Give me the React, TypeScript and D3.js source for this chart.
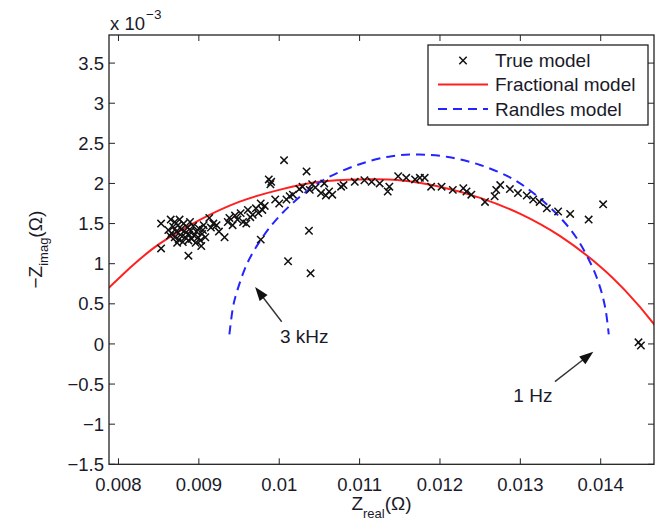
import React from 'react';
import * as d3 from 'd3';

// True model measurements: Z_real (Ω), -Z_imag (×10^-3 Ω)
const trueX = [
  0.00853, 0.00853, 0.00865, 0.00887, 0.00903,
  0.00862, 0.00866, 0.00868, 0.00870, 0.00872, 0.00874, 0.00875, 0.00877, 0.00878, 0.00880,
  0.00881, 0.00883, 0.00884, 0.00886, 0.00887, 0.00888, 0.00890, 0.00891, 0.00893, 0.00894,
  0.00896, 0.00897, 0.00899, 0.00900, 0.00902, 0.00904, 0.00906, 0.00908, 0.00870, 0.00876,
  0.00864, 0.00889, 0.00873, 0.00905,
  0.00913, 0.00915, 0.00918, 0.00922, 0.00925, 0.00932, 0.00936, 0.00938, 0.00942, 0.00945,
  0.00948, 0.00952, 0.00955, 0.00959, 0.00961, 0.00964, 0.00967, 0.00971, 0.00974, 0.00977,
  0.00979, 0.00982, 0.00977,
  0.00987, 0.00989, 0.00990, 0.00995, 0.01000, 0.01006, 0.01009, 0.01013, 0.01017, 0.01025,
  0.01029, 0.01034, 0.01038, 0.01041, 0.01045, 0.01052, 0.01056, 0.01058, 0.01062, 0.01066,
  0.01077, 0.01080,
  0.01037, 0.01011, 0.01039,
  0.01094, 0.01106, 0.01115, 0.01125, 0.01135, 0.01137, 0.01148, 0.01158, 0.01169, 0.01175,
  0.01181, 0.01189, 0.01202, 0.01216, 0.01229, 0.01233, 0.01239, 0.01256, 0.01268, 0.01270,
  0.01275, 0.01287, 0.01297, 0.01308, 0.01316, 0.01324, 0.01333, 0.01347, 0.01362, 0.01385,
  0.01403,
  0.01447, 0.01450,
];
const trueY = [
  1.50, 1.19, 1.55, 1.10, 1.22,
  1.42, 1.38, 1.46, 1.33, 1.40, 1.48, 1.30, 1.36, 1.43, 1.27,
  1.50, 1.33, 1.39, 1.45, 1.29, 1.36, 1.41, 1.31, 1.47, 1.35,
  1.26, 1.40, 1.33, 1.44, 1.29, 1.37, 1.48, 1.33, 1.52, 1.55,
  1.35, 1.52, 1.26, 1.42,
  1.57, 1.45, 1.50, 1.48, 1.40, 1.33, 1.52, 1.57, 1.48, 1.60,
  1.55, 1.63, 1.52, 1.50, 1.67, 1.58, 1.61, 1.69, 1.63, 1.75,
  1.67, 1.72, 1.30,
  2.05, 1.99, 2.02, 1.80, 1.75, 2.29, 1.80, 1.84, 1.86, 1.93,
  1.96, 2.15, 1.92, 1.99, 1.95, 1.88, 2.00, 1.85, 1.90, 1.86,
  1.96, 1.98,
  1.41, 1.03, 0.88,
  2.02, 2.04, 2.02, 2.00, 1.90, 1.96, 2.09, 2.07, 2.05, 2.07,
  2.07, 1.96, 1.96, 1.92, 1.94, 1.90, 1.86, 1.77, 1.84, 1.92,
  1.98, 1.93, 1.88, 1.85, 1.80, 1.77, 1.69, 1.65, 1.62, 1.55,
  1.74,
  0.02, -0.02,
];

// Fractional model curve
const fracX = [0.00780, 0.00820, 0.00850, 0.00900, 0.00950, 0.01000, 0.01050, 0.01100, 0.01150,
  0.01200, 0.01250, 0.01300, 0.01350, 0.01400, 0.01430, 0.01466, 0.01475];
const fracY = [0.62, 1.00, 1.24, 1.54, 1.77, 1.92, 2.02, 2.05, 2.04,
  1.96, 1.82, 1.62, 1.34, 0.96, 0.67, 0.25, 0.12];

// Randles model curve
const randX = [0.00938, 0.00942, 0.00945, 0.00960, 0.00980, 0.01000, 0.01030, 0.01060, 0.01100,
  0.01140, 0.01174, 0.01210, 0.01250, 0.01290, 0.01320, 0.01350, 0.01370, 0.01390, 0.01400,
  0.01406, 0.01410];
const randY = [0.12, 0.43, 0.57, 1.00, 1.34, 1.59, 1.87, 2.07, 2.24,
  2.34, 2.36, 2.33, 2.23, 2.06, 1.85, 1.57, 1.32, 0.95, 0.68,
  0.43, 0.12];

const xTicks = [0.008, 0.009, 0.010, 0.011, 0.012, 0.013, 0.014];
const xTickLabels = ['0.008', '0.009', '0.01', '0.011', '0.012', '0.013', '0.014'];
const yTicks = [-1.5, -1, -0.5, 0, 0.5, 1, 1.5, 2, 2.5, 3, 3.5];
const yTickLabels = ['\u22121.5', '\u22121', '\u22120.5', '0', '0.5', '1', '1.5', '2', '2.5', '3', '3.5'];

const legendLabels = ['True model', 'Fractional model', 'Randles model'];

const annoLabels = ['3 kHz', '1 Hz'];
const annoTip = [[0.00970, 0.71], [0.013908, -0.097]];
const annoTail = [[0.010031, 0.277], [0.01343, -0.47]];
const annoText = [[0.01001, 0.012], [0.012913, -0.72]];

const FONT = '"Liberation Sans", Arial, Helvetica, sans-serif';

export default function App() {
  const L = 109, R = 654, T = 35, B = 464.3;
  const x = d3.scaleLinear().domain([0.007882, 0.014663]).range([L, R]);
  const y = d3.scaleLinear().domain([-1.5, 3.85]).range([B, T]);
  const tick = 6;

  const fracPts: [number, number][] = fracX.map((v, i) => [v, fracY[i]]);
  const randPts: [number, number][] = randX.map((v, i) => [v, randY[i]]);
  const line = d3.line<[number, number]>().x(d => x(d[0])).y(d => y(d[1])).curve(d3.curveCatmullRom.alpha(0.5));

  const marker = 'M-3.7,-3.7L3.7,3.7M-3.7,3.7L3.7,-3.7';

  const arrowHead = (tip: number[], tail: number[]) => {
    const tx = x(tip[0]), ty = y(tip[1]);
    const sx = x(tail[0]), sy = y(tail[1]);
    const ang = Math.atan2(ty - sy, tx - sx);
    const len = 14, w = 5;
    const bx = tx - len * Math.cos(ang), by = ty - len * Math.sin(ang);
    const px = -Math.sin(ang) * w, py = Math.cos(ang) * w;
    return {
      line: { x1: sx, y1: sy, x2: bx + (tx - bx) * 0.3, y2: by + (ty - by) * 0.3 },
      head: `M${tx},${ty}L${bx + px},${by + py}L${bx - px},${by - py}Z`,
    };
  };

  const legX = 428, legY = 45, legW = 220, legH = 80;
  const rowY = [60.5, 84.5, 109];

  return (
    <svg width={656} height={525} style={{ position: 'absolute', left: 0, top: 0, background: '#fff' }}
      fontFamily={FONT}>
      <defs>
        <clipPath id="plotclip">
          <rect x={L} y={T} width={R - L} height={B - T} />
        </clipPath>
      </defs>
      <rect x={0} y={0} width={656} height={525} fill="#fff" />

      <g clipPath="url(#plotclip)">
        <path d={line(fracPts) || ''} fill="none" stroke="#ff2020" strokeWidth={2} />
        <path d={line(randPts) || ''} fill="none" stroke="#2424ff" strokeWidth={2} strokeDasharray="9,6" />
        {trueX.map((v, i) => (
          <path key={i} d={marker} transform={`translate(${x(v)},${y(trueY[i])})`} stroke="#111" strokeWidth={1.5} fill="none" />
        ))}
      </g>

      <rect x={L} y={T} width={R - L} height={B - T} fill="none" stroke="#222" strokeWidth={1.3} />
      {xTicks.map((t, i) => (
        <g key={'xt' + i}>
          <line x1={x(t)} x2={x(t)} y1={B} y2={B - tick} stroke="#222" strokeWidth={1} />
          <line x1={x(t)} x2={x(t)} y1={T} y2={T + tick} stroke="#222" strokeWidth={1} />
          <text x={x(t)} y={491} textAnchor="middle" fontSize={18.5} fill="#1a1a2a">{xTickLabels[i]}</text>
        </g>
      ))}
      {yTicks.map((t, i) => (
        <g key={'yt' + i}>
          <line x1={L} x2={L + tick} y1={y(t)} y2={y(t)} stroke="#222" strokeWidth={1} />
          <line x1={R} x2={R - tick} y1={y(t)} y2={y(t)} stroke="#222" strokeWidth={1} />
          <text x={104} y={y(t) + 6.6} textAnchor="end" fontSize={18.5} fill="#1a1a2a">{yTickLabels[i]}</text>
        </g>
      ))}

      <text x={110} y={30} fontSize={18.5} fill="#1a1a2a">x 10</text>
      <text x={146} y={19} fontSize={13.5} fill="#1a1a2a">{'\u22123'}</text>

      <text x={(L + R) / 2} y={510} textAnchor="middle" fontSize={19} fill="#1a1a2a">
        <tspan>Z</tspan>
        <tspan fontSize={13} dy={8}>real</tspan>
        <tspan dy={-8}>(Ω)</tspan>
      </text>
      <text transform={`translate(42,${(T + B) / 2}) rotate(-90)`} textAnchor="middle" fontSize={19} fill="#1a1a2a">
        <tspan>{'\u2212Z'}</tspan>
        <tspan fontSize={13} dy={6}>imag</tspan>
        <tspan dy={-6}>(Ω)</tspan>
      </text>

      {annoLabels.map((lab, i) => {
        const a = arrowHead(annoTip[i], annoTail[i]);
        return (
          <g key={'an' + i}>
            <line {...a.line} stroke="#333" strokeWidth={1.4} />
            <path d={a.head} fill="#111" />
            <text x={x(annoText[i][0])} y={y(annoText[i][1])} fontSize={19} fill="#1a1a2a">{lab}</text>
          </g>
        );
      })}

      <rect x={legX} y={legY} width={legW} height={legH} fill="#fff" stroke="#222" strokeWidth={1.3} />
      <path d={marker} transform={`translate(463,${rowY[0]})`} stroke="#111" strokeWidth={1.5} fill="none" />
      <line x1={438} x2={488} y1={rowY[1]} y2={rowY[1]} stroke="#ff2020" strokeWidth={2} />
      <line x1={438} x2={488} y1={rowY[2]} y2={rowY[2]} stroke="#2424ff" strokeWidth={2} strokeDasharray="9,6" />
      {legendLabels.map((lab, i) => (
        <text key={'lg' + i} x={495} y={rowY[i] + 6.8} fontSize={19} fill="#1a1a2a">{lab}</text>
      ))}
    </svg>
  );
}
